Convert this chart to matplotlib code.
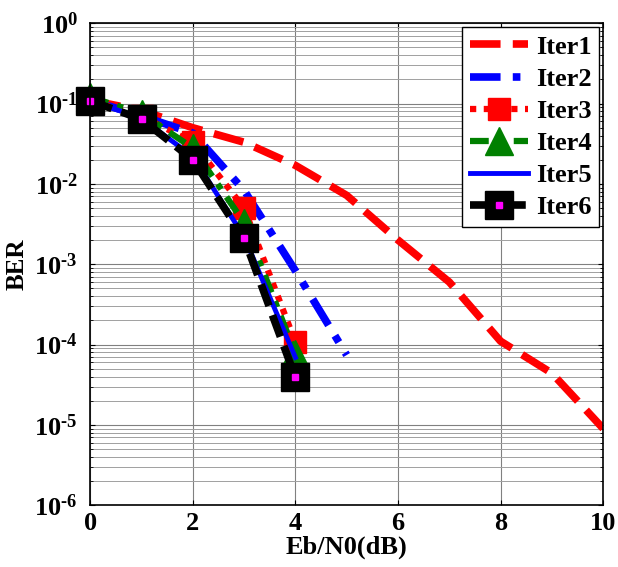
import matplotlib
matplotlib.use("Agg")
import matplotlib.pyplot as plt
from matplotlib.legend_handler import HandlerTuple
from matplotlib.ticker import LogLocator, NullFormatter, FixedLocator

plt.rcParams['font.family'] = ['Liberation Serif', 'DejaVu Serif']
plt.rcParams['font.weight'] = 'bold'
plt.rcParams['mathtext.fontset'] = 'custom'
plt.rcParams['mathtext.rm'] = 'Liberation Serif:bold'
plt.rcParams['mathtext.bf'] = 'Liberation Serif:bold'
plt.rcParams['mathtext.it'] = 'Liberation Serif:bold'

ebn0_1 = [0, 1, 2, 3, 4, 5, 6, 7, 8, 9, 10]
iter1 = [0.11, 0.082, 0.05, 0.033, 0.017, 0.0072, 0.002, 6.0e-4, 1.1e-4, 4.4e-5, 9e-6]
ebn0_2 = [0, 1, 2, 3, 4, 5]
iter2 = [0.11, 0.07, 0.043, 0.0083, 8.3e-4, 7.4e-5]
ebn0_s = [0, 1, 2, 3, 4]
iter3 = [0.11, 0.07, 0.033, 0.005, 1.07e-4]
iter4 = [0.12, 0.075, 0.028, 0.0033, 7.7e-5]
iter5 = [0.11, 0.065, 0.022, 0.0022, 6.9e-5]
iter6 = [0.108, 0.064, 0.020, 0.0021, 3.9e-5]
xticks = [0, 2, 4, 6, 8, 10]
yexps = [-6, -5, -4, -3, -2, -1, 0]

fig = plt.figure(figsize=(6.18, 5.67), dpi=100)
ax = fig.add_axes([0.146, 0.109, 0.830, 0.850])

l1, = ax.plot(ebn0_1, iter1, color='red', lw=5.5, dashes=(4, 1.6), label='Iter1')
l2, = ax.plot(ebn0_2, iter2, color='blue', lw=5.5, dashes=(4, 1.6, 1, 1.6), label='Iter2')
l3, = ax.plot(ebn0_s, iter3, color='red', lw=4.5, dashes=(1, 1.2), marker='s', ms=16,
              mfc='red', mec='red', label='Iter3', clip_on=False)
l4, = ax.plot(ebn0_s, iter4, color='green', lw=4.5, dashes=(3, 1.5, 1, 1.5), marker='^', ms=20,
              mfc='green', mec='green', label='Iter4', clip_on=False)
l5, = ax.plot(ebn0_s, iter5, color='blue', lw=3.5, ls='-', label='Iter5', clip_on=False)
l6, = ax.plot(ebn0_s, iter6, color='black', lw=5.5, dashes=(3, 1.3), marker='s', ms=20,
              mfc='black', mec='black', label='Iter6', clip_on=False)
l6m, = ax.plot(ebn0_s, iter6, ls='none', marker='s', ms=4, mfc='magenta', mec='magenta', clip_on=False)

ax.set_yscale('log')
ax.set_xlim(0, 10)
ax.set_ylim(1e-6, 1)
ax.xaxis.set_major_locator(FixedLocator(xticks))
ax.set_xticklabels([str(v) for v in xticks])
ax.yaxis.set_major_locator(FixedLocator([10.0 ** e for e in yexps]))
ax.set_yticklabels([r'$10^{\text{-}%d}$' % (-e) if e < 0 else r'$10^{%d}$' % e for e in yexps])
ax.yaxis.set_minor_locator(LogLocator(base=10, subs=range(2, 10), numticks=20))
ax.yaxis.set_minor_formatter(NullFormatter())

ax.grid(True, which='major', color='#808080', lw=0.8)
ax.grid(True, which='minor', axis='y', color='#a0a0a0', lw=0.7)
ax.tick_params(axis='both', which='both', direction='in', labelsize=19, top=True, right=True)
ax.tick_params(axis='x', pad=5)
ax.tick_params(axis='y', pad=9)
for lab in ax.get_xticklabels() + ax.get_yticklabels():
    lab.set_fontweight('bold')
for s in ax.spines.values():
    s.set_linewidth(1.2)

ax.set_xlabel('Eb/N0(dB)', fontsize=19, fontweight='bold', labelpad=0)
ax.set_ylabel('BER', fontsize=18, fontweight='bold', labelpad=4)

handles = [l1, l2, l3, l4, l5, (l6, l6m)]
labels = ['Iter1', 'Iter2', 'Iter3', 'Iter4', 'Iter5', 'Iter6']
leg = ax.legend(handles, labels, loc='upper right', fontsize=19, handlelength=2.2,
                handler_map={tuple: HandlerTuple(ndivide=1)},
                fancybox=False, edgecolor='black', framealpha=1,
                borderaxespad=0.15, labelspacing=0.33, handletextpad=0.3, borderpad=0.3)
leg.get_frame().set_linewidth(1.0)
for t in leg.get_texts():
    t.set_fontweight('bold')

fig.savefig('out.png', dpi=100)
